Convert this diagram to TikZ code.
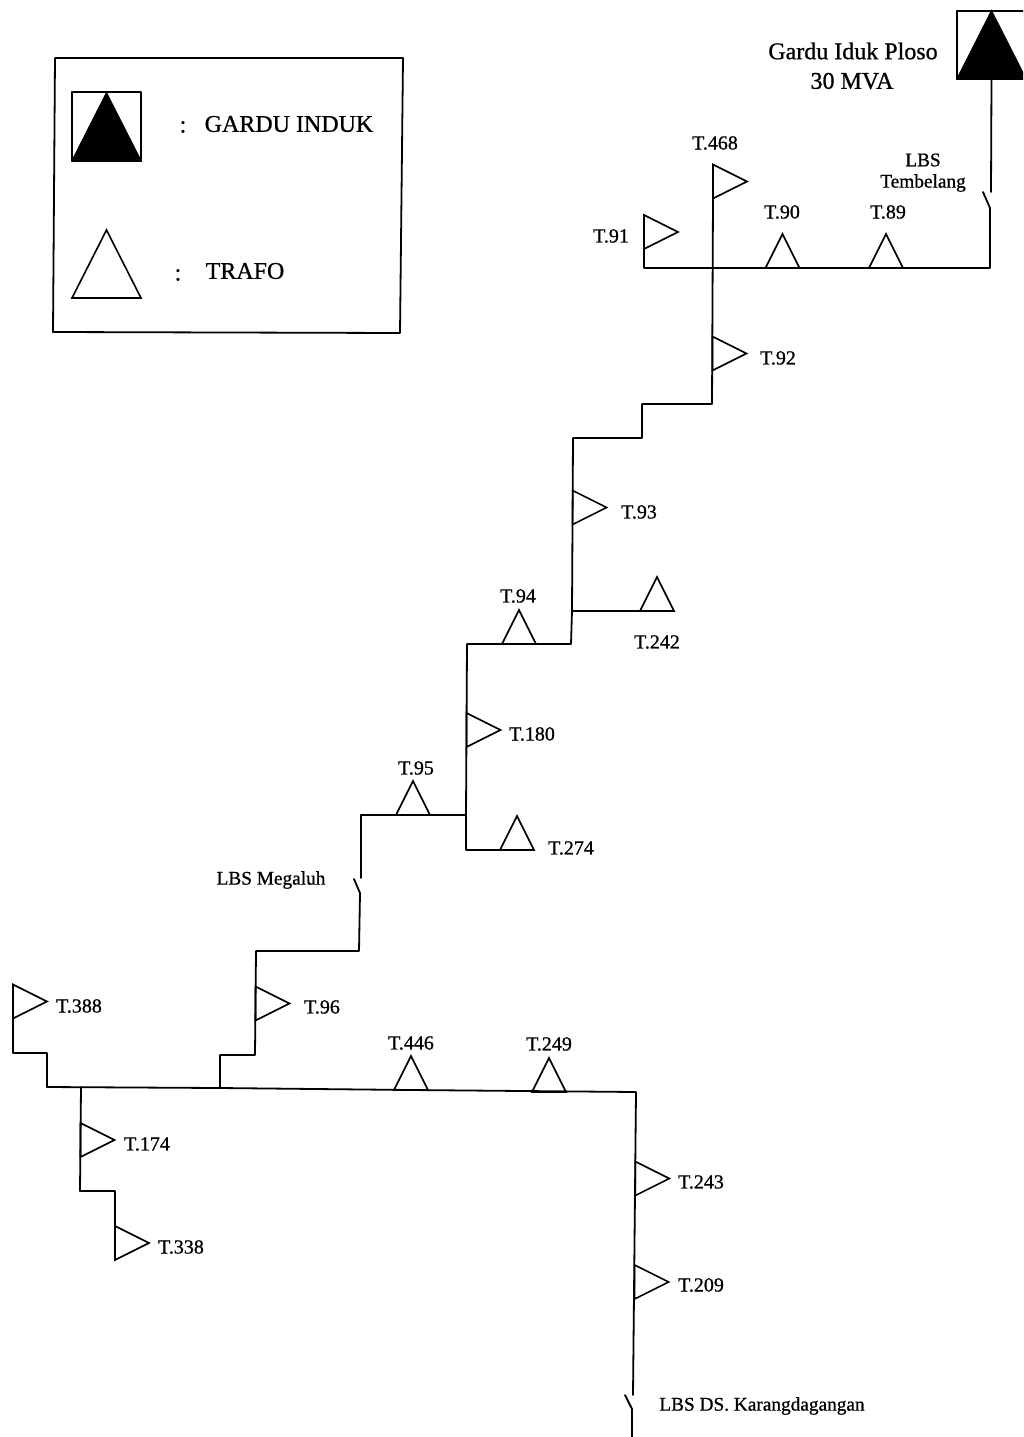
\documentclass[tikz,border=0pt]{standalone}
\usepackage{fontspec}
\setmainfont{Liberation Serif}[RawFeature={embolden=0.8}]
\usetikzlibrary{shapes.geometric}

\tikzset{
  wire/.style={line width=1.8pt, line cap=round, line join=round},
  trafo/.style={draw, line width=1.6pt, fill=white, isosceles triangle, isosceles triangle stretches,
    minimum width=34pt, minimum height=34pt, inner sep=0pt, outer sep=0pt, anchor=lower side},
  trafoup/.style={trafo, shape border rotate=90},
  trafori/.style={trafo, shape border rotate=0},
  gardu/.style={draw, line width=1.4pt, fill=black, isosceles triangle, isosceles triangle stretches,
    shape border rotate=90, minimum width=69pt, minimum height=68pt, inner sep=0pt, outer sep=0pt,
    anchor=lower side},
  lbl/.style={font=\fontsize{20}{22}\selectfont, inner sep=0pt},
  lbs/.style={font=\fontsize{19.3}{21}\selectfont, inner sep=0pt},
  big/.style={font=\fontsize{24}{28}\selectfont, inner sep=0pt},
  legend/.style={font=\fontsize{24}{28}\selectfont, inner sep=0pt}
}

\begin{document}
\begin{tikzpicture}[x=1pt, y=-1pt]
    \clip (0,0) rectangle (1023,1437);
    \fill[white] (0,0) rectangle (1023,1437);

    % Legend box
    \coordinate (bA) at (55,58);
    \coordinate (bB) at (403,58);
    \coordinate (bC) at (400,333);
    \coordinate (bD) at (53,332);
    \draw[wire] (bA) -- (bB) -- (bC) -- (bD) -- cycle;
    \coordinate (kA) at (72,92);
    \coordinate (kC) at (141,161);
    \draw[wire] (kA) rectangle (kC);
    \node[gardu] (kgardu) at (106.5,161) {};
    \node[trafoup, minimum width=69pt, minimum height=68pt] (ktrafo) at (106.5,298) {};
    \node[legend] (kc1) at (183,127) {:};
    \node[legend] (kt1) at (289,124) {GARDU INDUK};
    \node[legend] (kc2) at (178,275) {:};
    \node[legend] (kt2) at (245,271) {TRAFO};

    % Substation
    \coordinate (gA) at (957,11);
    \coordinate (gC) at (1027,79);
    \draw[wire] (gA) rectangle (gC);
    \node[gardu] (gi) at (991.5,79) {};
    \node[big] (gn1) at (853,51) {Gardu Iduk Ploso};
    \node[big] (gn2) at (852,81) {30 MVA};

    % Junctions on the feeder
    \coordinate (s1a) at (991,192);
    \coordinate (s1b) at (983,192);
    \coordinate (s1c) at (990,208);
    \coordinate (c1) at (990,268);
    \coordinate (c2) at (644,268);
    \coordinate (c3) at (712,404);
    \coordinate (c4) at (642,404);
    \coordinate (c5) at (642,438);
    \coordinate (c6) at (573,438);
    \coordinate (c7) at (572,611);
    \coordinate (c8) at (571,644);
    \coordinate (c9) at (467,644);
    \coordinate (c10) at (466,815);
    \coordinate (c11) at (466,850);
    \coordinate (c12) at (361,815);
    \coordinate (s2a) at (361,878);
    \coordinate (s2b) at (354,879);
    \coordinate (s2c) at (360,893);
    \coordinate (c13) at (359,951);
    \coordinate (c14) at (256,951);
    \coordinate (c15) at (255,1055);
    \coordinate (c16) at (220,1055);
    \coordinate (c17) at (220,1088);
    \coordinate (c18) at (47,1087);
    \coordinate (c19) at (636,1092);
    \coordinate (c20) at (47,1053);
    \coordinate (c21) at (13,1053);
    \coordinate (c22) at (81,1087);
    \coordinate (c23) at (80,1191);
    \coordinate (c24) at (115,1191);
    \coordinate (s3a) at (633,1395);
    \coordinate (s3b) at (625,1395);
    \coordinate (s3c) at (632,1409);
    \coordinate (c25) at (632,1437);

    % Trafo
    \node[trafori] (t468) at (713,181.5) {};
    \node[trafori] (t91) at (644,232) {};
    \node[trafoup] (t90) at (782.5,268) {};
    \node[trafoup] (t89) at (886,268) {};
    \node[trafori] (t92) at (712.5,353.5) {};
    \node[trafori] (t93) at (572.6,507.5) {};
    \node[trafoup] (t242) at (657,611) {};
    \node[trafoup] (t94) at (519,644) {};
    \node[trafori] (t180) at (466.5,730) {};
    \node[trafoup] (t95) at (413,815) {};
    \node[trafoup] (t274) at (517,850) {};
    \node[trafori] (t96) at (255.5,1003.5) {};
    \node[trafori] (t388) at (13,1001.5) {};
    \node[trafoup] (t446) at (411,1090) {};
    \node[trafoup] (t249) at (549,1092) {};
    \node[trafori] (t174) at (80.5,1140) {};
    \node[trafori] (t338) at (115,1243) {};
    \node[trafori] (t243) at (635.3,1178.5) {};
    \node[trafori] (t209) at (634.6,1282) {};

    % Feeder lines
    \draw[wire] (gi.lower side) -- (s1a);
    \draw[wire] (s1b) -- (s1c) -- (c1) -- (c2) -- (t91.left corner |- t91.right corner);
    \draw[wire] (t468.right corner) -- (c3) -- (c4) -- (c5) -- (c6) -- (c7) -- (c8) -- (c9) -- (c10) -- (c11) -- (t274.left corner);
    \draw[wire] (c7) -- (t242.left corner);
    \draw[wire] (c10) -- (c12) -- (s2a);
    \draw[wire] (s2b) -- (s2c) -- (c13) -- (c14) -- (c15) -- (c16) -- (c17);
    \draw[wire] (c18) -- (c17) -- (t446.lower side) -- (c19) -- (s3a);
    \draw[wire] (t388.left corner) -- (c21) -- (c20) -- (c18);
    \draw[wire] (c22) -- (c23) -- (c24) -- (t338.left corner);
    \draw[wire] (s3b) -- (s3c) -- (c25);

    % Labels
    \node[lbl] (l468) at (715,143) {T.468};
    \node[lbl] (l91) at (611,236) {T.91};
    \node[lbl] (l90) at (782,212) {T.90};
    \node[lbl] (l89) at (888,212) {T.89};
    \node[lbs] (ls1a) at (923,160) {LBS};
    \node[lbs] (ls1b) at (923,183) {Tembelang};
    \node[lbl] (l92) at (778,358) {T.92};
    \node[lbl] (l93) at (639,512) {T.93};
    \node[lbl] (l94) at (518,596) {T.94};
    \node[lbl] (l242) at (657,642) {T.242};
    \node[lbl] (l180) at (532,734) {T.180};
    \node[lbl] (l95) at (416,768) {T.95};
    \node[lbl] (l274) at (571,848) {T.274};
    \node[lbs] (ls2) at (271,880) {LBS Megaluh};
    \node[lbl] (l96) at (322,1007) {T.96};
    \node[lbl] (l388) at (79,1006) {T.388};
    \node[lbl] (l446) at (411,1043) {T.446};
    \node[lbl] (l249) at (549,1044) {T.249};
    \node[lbl] (l174) at (147,1144) {T.174};
    \node[lbl] (l338) at (181,1247) {T.338};
    \node[lbl] (l243) at (701,1182) {T.243};
    \node[lbl] (l209) at (701,1285) {T.209};
    \node[lbs] (ls3) at (762,1406) {LBS DS. Karangdagangan};
\end{tikzpicture}
\end{document}
